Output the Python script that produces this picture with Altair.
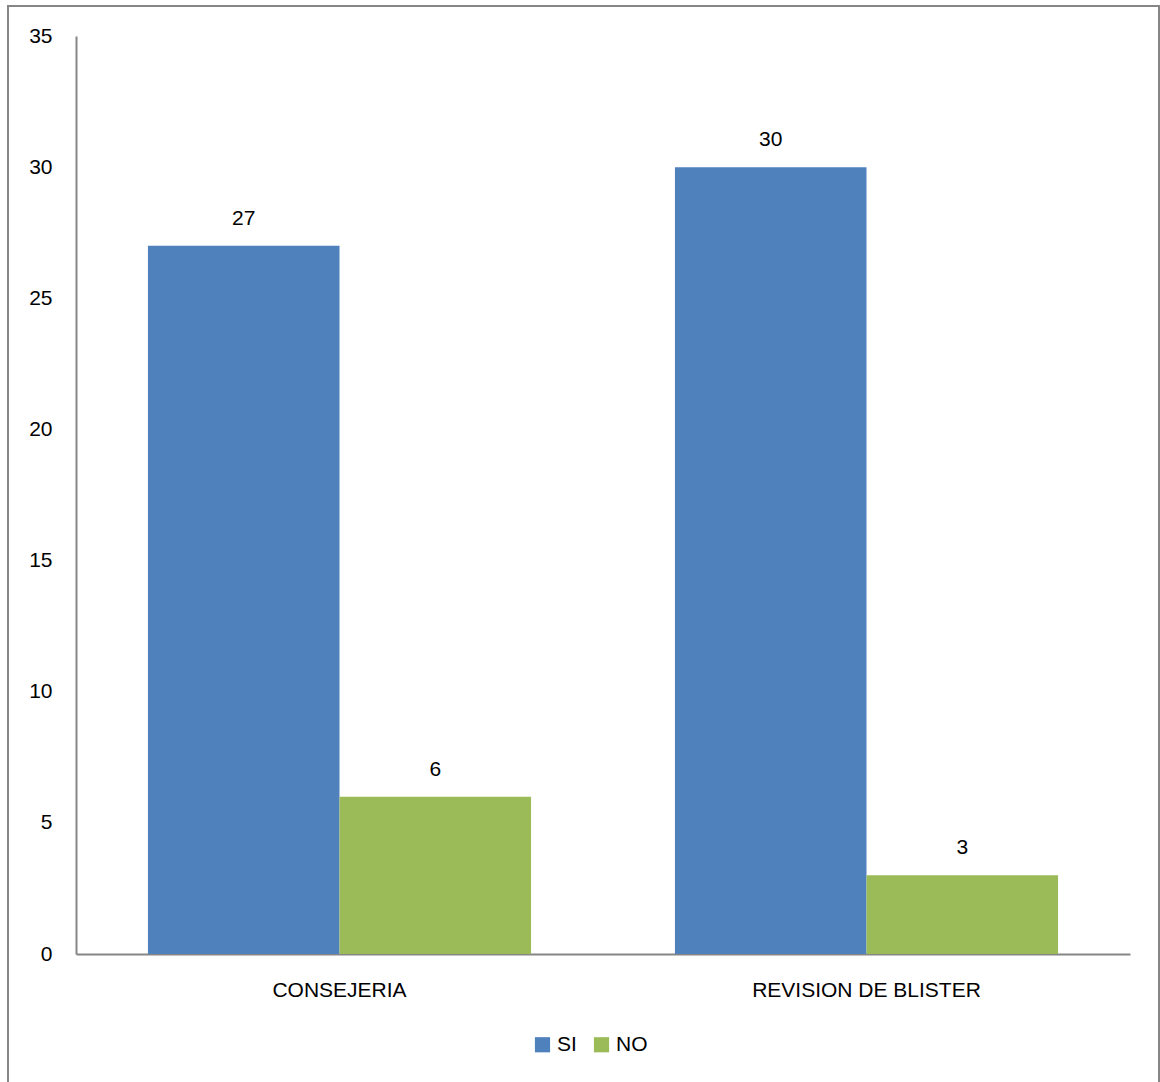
import altair as alt
import pandas as pd

# Survey results per activity
categories = ["CONSEJERIA", "REVISION DE BLISTER"]
answers = ["SI", "NO"]
si_values = [27, 30]
no_values = [6, 3]

rows = []
for cat, si, no in zip(categories, si_values, no_values):
    rows.append({"categoria": cat, "respuesta": "SI", "valor": si})
    rows.append({"categoria": cat, "respuesta": "NO", "valor": no})
df = pd.DataFrame(rows)

FONT = "Liberation Sans"
FS = 21
W, H = 1054, 918

x_enc = alt.X(
    "categoria:N",
    sort=categories,
    title=None,
    scale=alt.Scale(paddingInner=0.273, paddingOuter=0.1365),
    axis=alt.Axis(
        labelAngle=0,
        labelFontSize=FS,
        labelFont=FONT,
        labelColor="#000000",
        labelPadding=25,
        labelLimit=0,
        ticks=False,
        domainColor="#868686",
        domainWidth=2,
    ),
)
y_enc = alt.Y(
    "valor:Q",
    title=None,
    scale=alt.Scale(domain=[0, 35], nice=False),
    axis=alt.Axis(
        values=[0, 5, 10, 15, 20, 25, 30, 35],
        grid=False,
        ticks=False,
        labelFontSize=FS,
        labelFont=FONT,
        labelColor="#000000",
        labelPadding=24,
        domainColor="#868686",
        domainWidth=2,
    ),
)
color_enc = alt.Color(
    "respuesta:N",
    sort=answers,
    scale=alt.Scale(domain=answers, range=["#4F81BD", "#9BBB59"]),
    legend=alt.Legend(
        title=None,
        orient="none",
        direction="horizontal",
        legendX=456,
        legendY=998,
        symbolType="square",
        symbolSize=230,
        symbolStrokeWidth=0,
        labelFontSize=FS,
        labelFont=FONT,
        labelColor="#000000",
        columnPadding=14,
        labelOffset=4,
    ),
)

base = alt.Chart(df).encode(
    x=x_enc,
    xOffset=alt.XOffset("respuesta:N", sort=answers, scale=alt.Scale(paddingInner=0)),
)

bars = base.mark_bar().encode(y=y_enc, color=color_enc)
labels = base.mark_text(dy=-17, fontSize=FS, font=FONT, color="#000000", baseline="bottom").encode(
    y="valor:Q", text="valor:Q"
)

frame = alt.Chart(df).mark_rect(fill=None, stroke="#868686", strokeWidth=2).encode(
    x=alt.value(-68), x2=alt.value(1083), y=alt.value(-30), y2=alt.value(1100)
)

chart = (
    alt.layer(frame, bars, labels)
    .properties(
        width=W,
        height=H,
        padding={"left": 76, "top": 36, "right": 30, "bottom": 128},
        autosize=alt.AutoSizeParams(type="none"),
        background="#ffffff",
    )
    .configure_view(stroke=None)
)

chart.save("out.html", embed_options={"renderer": "svg", "actions": False})
